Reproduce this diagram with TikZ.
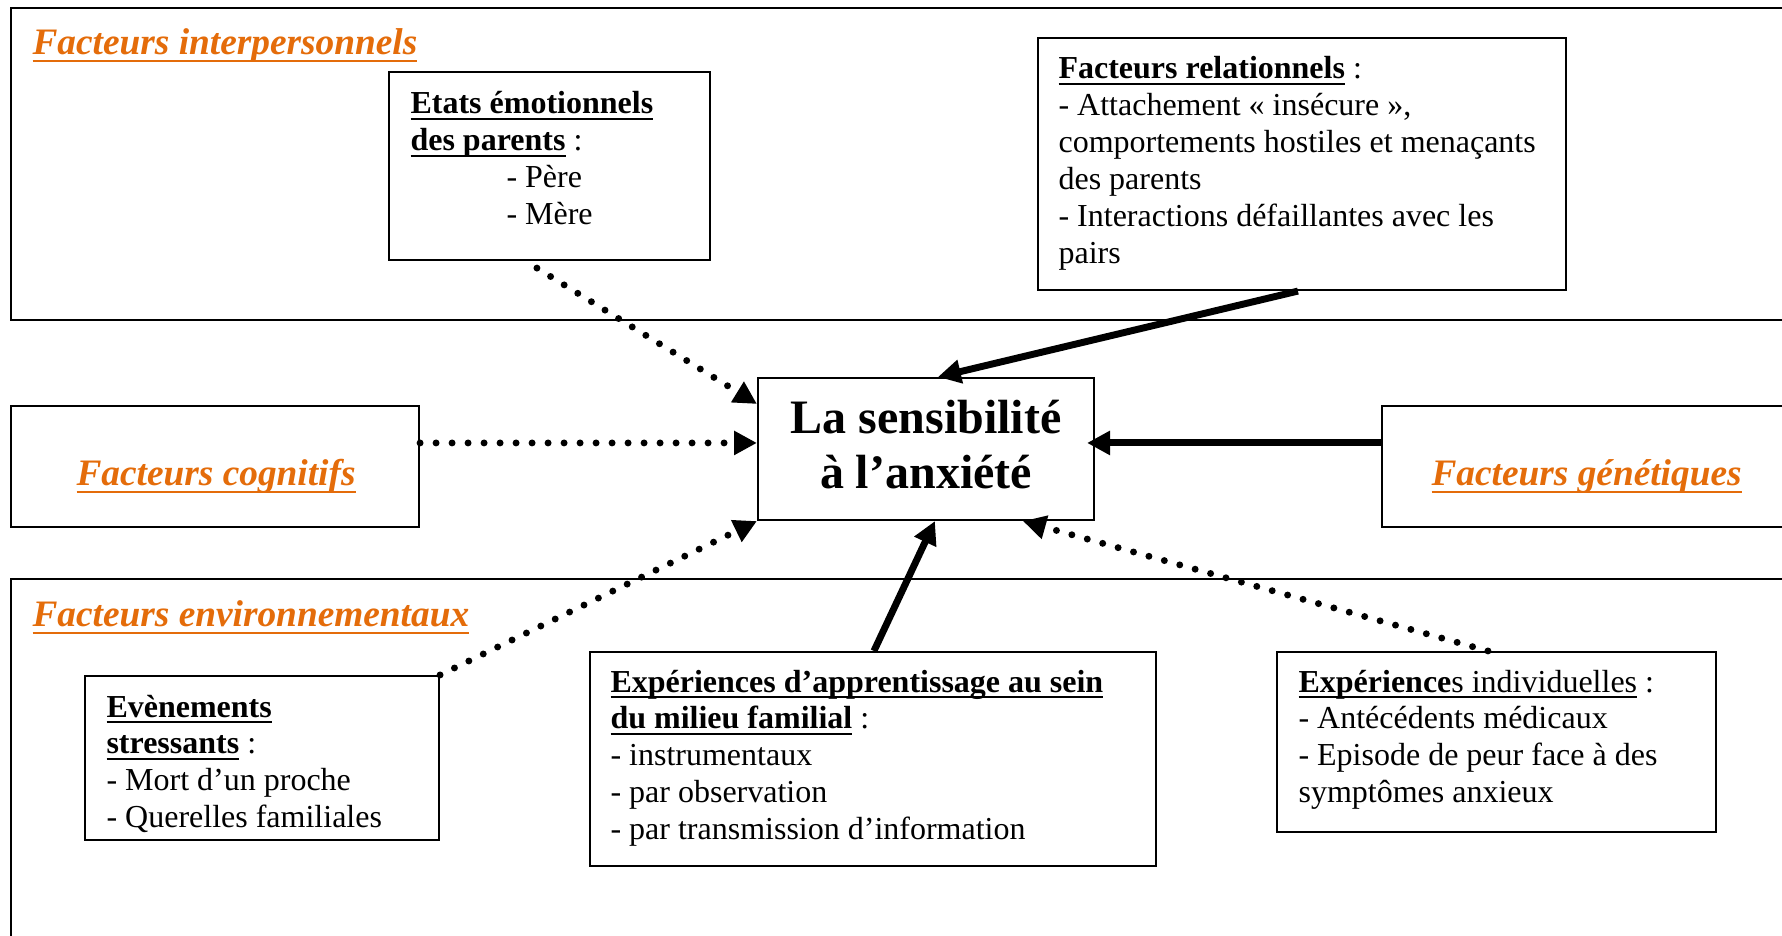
\documentclass[tikz,border=0pt]{standalone}
\usepackage{fontspec}
\setmainfont{Liberation Serif}
\usetikzlibrary{arrows.meta,calc,fit}
\definecolor{orng}{RGB}{228,108,10}
\newlength\ulwd
\newcommand\myul[1]{\settowidth{\ulwd}{#1}#1\llap{\rule[-2.3pt]{\ulwd}{0.8pt}}}
\newcommand\hdul[1]{\settowidth{\ulwd}{#1}#1\llap{\rule[-2.9pt]{\ulwd}{0.95pt}}}
\newcommand\fst{\rule{0pt}{12pt}}
\tikzset{
  frame/.style={draw, line width=0.8pt, inner sep=0pt},
  body/.style={anchor=north west, inner sep=0pt, align=left, font=\fontsize{12}{13.85}\selectfont},
  heading/.style={anchor=base west, inner sep=0pt, text=orng, font=\fontsize{14}{16.1}\selectfont\bfseries\itshape},
  dotarrow/.style={line width=2.6pt, dash pattern=on 0pt off 6pt, line cap=round, -{Triangle[length=8.6pt,width=8.6pt]}},
  solidarrow/.style={line width=2.6pt, -{Triangle[length=8.6pt,width=8.6pt]}},
}
\begin{document}
\begin{tikzpicture}[x=0.375pt,y=-0.375pt]
\useasboundingbox (0,0) rectangle (1782,935);
\clip (0,0) rectangle (1782,935);
\fill[white] (0,0) rectangle (1782,935);
% outer group frames
\node[frame, fit={(11,8) (1800,320)}] (inter) {};
\node[frame, fit={(11,579) (1800,960)}] (envir) {};
\node[frame, fit={(11,406) (419,527)}] (cog) {};
\node[frame, fit={(1382,406) (1800,527)}] (gen) {};
% headings
\node[heading] (hinter) at (32,54.5) {\hdul{Facteurs interpersonnels}};
\node[heading] (henvir) at (32,626.5) {\hdul{Facteurs environnementaux}};
\node[heading] (hcog) at (76,485.5) {\hdul{Facteurs cognitifs}};
\node[heading] (hgen) at (1431,485.5) {\hdul{Facteurs génétiques}};
% inner boxes
\node[frame, fit={(758,378) (1094,520)}] (centre) {};
\node[frame, fit={(389,72) (710,260)}] (etats) {};
\node[frame, fit={(1038,38) (1566,290)}] (rel) {};
\node[frame, fit={(85,676) (439,840)}] (even) {};
\node[frame, fit={(590,652) (1156,866)}] (app) {};
\node[frame, fit={(1277,652) (1716,832)}] (indiv) {};
% texts
\node[anchor=north, inner sep=0pt, align=center, font=\fontsize{18}{20.7}\selectfont\bfseries] (titre) at (926,389) {\rule{0pt}{16.5pt}La sensibilité\\à l’anxiété};
\node[body] (tetats) at (410,81.2) {\fst\myul{\textbf{Etats émotionnels}}\\\myul{\textbf{des parents}} :\\\hspace*{36pt}- Père\\\hspace*{36pt}- Mère};
\node[body] (trel) at (1058,46.2) {\fst\myul{\textbf{Facteurs relationnels}} :\\- Attachement « insécure »,\\comportements hostiles et menaçants\\des parents\\- Interactions défaillantes avec les\\pairs};
\node[body] (teven) at (106,684.5) {\fst\myul{\textbf{Evènements}}\\\myul{\textbf{stressants}} :\\- Mort d’un proche\\- Querelles familiales};
\node[body] (tapp) at (610,659.5) {\fst\myul{\textbf{Expériences d’apprentissage au sein}}\\\myul{\textbf{du milieu familial}} :\\- instrumentaux\\- par observation\\- par transmission d’information};
\node[body] (tindiv) at (1298,659.5) {\fst\myul{\textbf{Expérience}s individuelles} :\\- Antécédents médicaux\\- Episode de peur face à des\\symptômes anxieux};
% connectors
\draw[dotarrow] ($(etats.south west)+(149,7)$) -- ($(centre.north west)+(0,27)$);
\draw[dotarrow] ($(cog.north east)+(0,38)$) -- ($(centre.north west)+(0,66)$);
\draw[solidarrow] ($(gen.north west)+(0,38)$) -- ($(centre.north east)+(-8,66)$);
\draw[solidarrow] ($(rel.south west)+(261,0)$) -- ($(centre.north west)+(181,0)$);
\draw[solidarrow] ($(app.north west)+(285,0)$) -- ($(centre.south west)+(178,0)$);
\draw[dotarrow] (even.north east) -- (centre.south west);
\draw[dotarrow] ($(indiv.north west)+(212,0)$) -- ($(centre.south west)+(266,0)$);
\end{tikzpicture}
\end{document}
